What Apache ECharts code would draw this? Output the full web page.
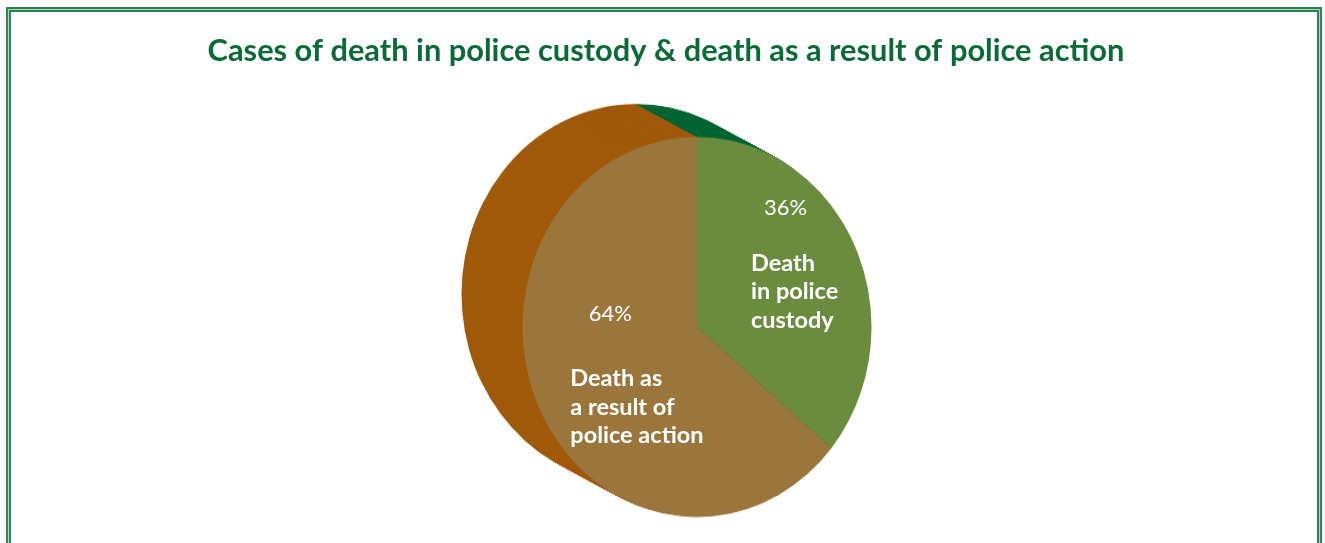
<!DOCTYPE html>
<html>
<head>
<meta charset="utf-8">
<script src="https://cdn.jsdelivr.net/npm/echarts@6/dist/echarts.min.js"></script>
<style>
  html, body { margin: 0; padding: 0; background: #ffffff; }
  #wrap { position: relative; width: 1325px; height: 543px; overflow: hidden; }
  #pie3d, #overlay { position: absolute; left: 0; top: 0; width: 1325px; height: 543px; }
  #pie3d { transform: scaleY(1.089); transform-origin: 697px 327px; }
</style>
</head>
<body>
<div id="wrap">
  <div id="pie3d"></div>
  <div id="overlay"></div>
</div>
<script>
// ---- data ----
const titleText = 'Cases of death in police custody & death as a result of police action';
const categories = ['Death\nin police\ncustody', 'Death as\na result of\npolice action'];
const values = [36, 64];
const percentLabels = ['36%', '64%'];
const frontColors = ['#6B8C3E', '#9B763C'];
const sideColors = ['#006633', '#A05A0A'];

// ---- 3D pie body (vertically stretched div) ----
const CX = 697, CY = 327, R = 174.5;
const DEPTH_X = -61, DEPTH_Y = -30.3, LAYERS = 61;
const pieData = (colors) => categories.map((c, i) => ({
  name: c, value: values[i], itemStyle: { color: colors[i] }
}));

const layers = [];
for (let k = LAYERS; k >= 1; k--) {
  layers.push({
    type: 'pie', silent: true, animation: false,
    center: [CX + DEPTH_X * k / LAYERS, CY + DEPTH_Y * k / LAYERS],
    radius: [0, R], startAngle: 90, clockwise: true,
    label: { show: false }, labelLine: { show: false },
    emphasis: { disabled: true },
    data: pieData(sideColors)
  });
}
layers.push({
  type: 'pie', silent: true, animation: false,
  center: [CX, CY], radius: [0, R], startAngle: 90, clockwise: true,
  label: { show: false }, labelLine: { show: false },
  emphasis: { disabled: true },
  itemStyle: { borderWidth: 0 },
  data: pieData(frontColors)
});
const c1 = echarts.init(document.getElementById('pie3d'), null, { renderer: 'canvas' });
c1.setOption({ animation: false, series: layers });

// ---- overlay: title, frame, labels ----
const pctOffsets = [[7, -81], [-5, -51.5]];
const nameOffsets = [[-27.7, 3], [-45, 41.5]];
const transparentData = categories.map((c, i) => ({
  name: c, value: values[i], itemStyle: { color: 'rgba(0,0,0,0)' }
}));
const c2 = echarts.init(document.getElementById('overlay'), null, { renderer: 'canvas' });
c2.setOption({
  animation: false,
  title: {
    text: titleText, left: 661, top: 31, textAlign: 'center',
    textStyle: { fontFamily: 'Lato', fontWeight: 'bold', fontSize: 30.8, color: '#0B6B38' }
  },
  graphic: [
    { type: 'rect', silent: true, shape: { x: 8.5, y: 9.5, width: 1311, height: 600 },
      style: { fill: 'none', stroke: '#2E8152', lineWidth: 5 } },
    { type: 'rect', silent: true, shape: { x: 8.5, y: 9.5, width: 1311, height: 600 },
      style: { fill: 'none', stroke: '#A9D4B6', lineWidth: 1.2 } }
  ],
  series: [
    {
      type: 'pie', silent: true, center: [CX, CY], radius: [0, R], startAngle: 90,
      data: transparentData,
      label: {
        show: true, position: 'inside', formatter: (p) => percentLabels[p.dataIndex],
        color: '#ffffff', fontFamily: 'Lato', fontSize: 22, fontWeight: 'normal'
      },
      labelLine: { show: false },
      labelLayout: (p) => ({ dx: pctOffsets[p.dataIndex][0], dy: pctOffsets[p.dataIndex][1] })
    },
    {
      type: 'pie', silent: true, center: [CX, CY], radius: [0, R], startAngle: 90,
      data: transparentData,
      label: {
        show: true, position: 'inside', formatter: '{b}',
        color: '#ffffff', fontFamily: 'Lato', fontSize: 23.5, fontWeight: 'bold',
        lineHeight: 28.5
      },
      labelLine: { show: false },
      labelLayout: (p) => ({
        dx: nameOffsets[p.dataIndex][0], dy: nameOffsets[p.dataIndex][1],
        align: 'left', verticalAlign: 'middle'
      })
    }
  ]
});
</script>
</body>
</html>
